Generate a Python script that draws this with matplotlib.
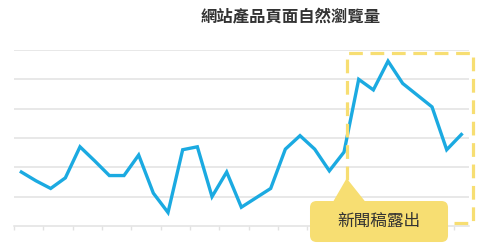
import matplotlib
matplotlib.use('Agg')
import matplotlib.pyplot as plt
from matplotlib.patches import FancyBboxPatch, Polygon, Rectangle

plt.rcParams['font.family'] = ['Noto Sans CJK TC', 'DejaVu Sans']

# 每日瀏覽量 (31 天)
days = list(range(1, 32))
views = [92, 77, 64, 82, 135, 111, 86, 86, 121, 56, 23, 130, 135, 50, 92, 32,
         48, 64, 131, 154, 131, 94, 126, 250, 232, 281, 243, 223, 203, 130, 156]
title = '網站產品頁面自然瀏覽量'
note = '新聞稿露出'
y_ticks = [50, 100, 150, 200, 250, 300]

line_color = '#1BAAE1'
yellow = '#F7DE72'
grid_color = '#E2E2E2'

fig = plt.figure(figsize=(5, 2.5), dpi=100)
ax = fig.add_axes([0.028, 0.096, 0.9094, 0.704])

x = [d - 1 for d in days]
ax.plot(x, views, color=line_color, lw=2.4, solid_joinstyle='miter', zorder=3)

ax.set_xlim(-0.5, len(days) - 0.5)
ax.set_ylim(0, 300)
ax.set_yticks(y_ticks)
ax.yaxis.grid(True, color=grid_color, lw=1.1)
ax.set_axisbelow(True)
ax.tick_params(axis='y', length=0, labelleft=False)
ax.set_xticks([i - 0.5 for i in range(0, len(days), 2)])
ax.tick_params(axis='x', length=3, color=grid_color, width=1.0, labelbottom=False)
for s in ['top', 'right', 'left']:
    ax.spines[s].set_visible(False)
ax.spines['bottom'].set_color(grid_color)
ax.spines['bottom'].set_linewidth(1.1)

# 新聞稿期間的虛線框
box = Rectangle((22.22, 4.6), 30.77 - 22.22, 295.4 - 4.6, fill=False,
                edgecolor=yellow, lw=2.3, linestyle=(0, (4.3, 2.4)),
                clip_on=False, zorder=4)
ax.add_patch(box)

# 說明框
tri = Polygon([(21.27, 42.0), (22.18, 81.3), (23.43, 42.0)], closed=True,
              facecolor=yellow, edgecolor='none', clip_on=False, zorder=5)
ax.add_patch(tri)
callout = FancyBboxPatch((19.68, -27.3), 29.09 - 19.68, 42.6 + 27.3,
                         boxstyle='round,pad=0,rounding_size=0.45',
                         mutation_aspect=25, facecolor=yellow, edgecolor='none',
                         clip_on=False, zorder=5)
ax.add_patch(callout)
ax.text(24.39, 8, note, ha='center', va='center', fontsize=12,
        color='#333333', zorder=6)

fig.text(0.582, 0.932, title, ha='center', va='center', fontsize=11.8,
         fontweight='bold', color='#333333')

fig.savefig('out.png', dpi=100)
